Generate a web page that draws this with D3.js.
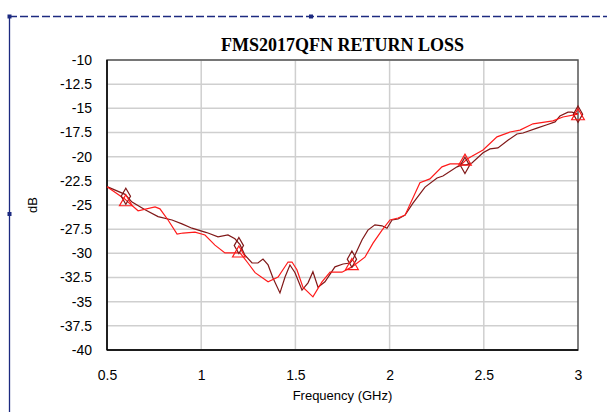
<!DOCTYPE html>
<html><head><meta charset="utf-8">
<script src="https://cdn.jsdelivr.net/npm/d3@7"></script>
<style>
html,body{margin:0;padding:0;background:#fff;}
svg{display:block;}
</style></head>
<body>
<svg id="c" width="607" height="412"></svg>
<script>
// ---- data ----
const title = "FMS2017QFN RETURN LOSS";
const xTicks = [0.5, 1, 1.5, 2, 2.5, 3];
const yTicks = [-10, -12.5, -15, -17.5, -20, -22.5, -25, -27.5, -30, -32.5, -35, -37.5, -40];

const darkFreq = [0.5,0.596,0.633,0.702,0.771,0.845,0.898,0.951,1.020,1.036,1.089,1.142,1.179,1.206,1.232,1.270,1.301,1.328,1.355,1.381,1.418,1.445,1.471,1.498,1.535,1.567,1.593,1.620,1.657,1.710,1.753,1.790,1.806,1.854,1.885,1.922,1.960,1.986,2.013,2.045,2.082,2.124,2.188,2.252,2.283,2.358,2.384,2.405,2.437,2.496,2.533,2.575,2.628,2.676,2.708,2.782,2.835,2.878,2.904,2.947,2.968,3.0];
const darkDb = [-23.1,-23.9,-24.7,-25.5,-26.2,-26.55,-26.95,-27.4,-27.8,-27.9,-28.3,-28.1,-28.5,-29.1,-30.2,-31.0,-31.0,-30.6,-31.2,-32.55,-34.1,-32.45,-31.2,-32.0,-33.8,-33.05,-31.9,-33.5,-32.95,-31.4,-31.1,-31.0,-30.6,-28.6,-27.6,-27.05,-27.15,-27.4,-26.55,-26.45,-26.05,-24.8,-23.15,-22.2,-22.0,-21.05,-20.85,-20.85,-20.65,-19.6,-19.2,-19.1,-18.3,-17.65,-17.55,-17.05,-16.7,-16.4,-15.8,-15.4,-15.4,-15.6];

const redFreq = [0.5,0.596,0.606,0.665,0.755,0.781,0.824,0.872,0.903,0.967,1.020,1.073,1.126,1.195,1.206,1.248,1.286,1.355,1.408,1.461,1.482,1.508,1.540,1.593,1.641,1.684,1.747,1.800,1.869,1.912,1.960,2.002,2.045,2.082,2.161,2.214,2.278,2.321,2.384,2.411,2.496,2.570,2.639,2.692,2.761,2.867,2.920,3.0];
const redDb = [-23.1,-24.4,-24.6,-25.6,-25.2,-25.4,-26.55,-28.0,-27.9,-27.8,-28.1,-29.15,-29.95,-29.95,-29.95,-31.0,-32.0,-32.95,-32.45,-30.9,-30.9,-31.7,-33.5,-34.5,-32.95,-31.95,-31.95,-31.4,-30.4,-28.95,-27.6,-26.55,-26.35,-26.05,-22.7,-22.3,-21.05,-20.75,-20.75,-20.25,-19.3,-17.95,-17.45,-17.25,-16.6,-16.3,-15.9,-15.6];

const markFreq = [0.6, 1.2, 1.8, 2.4, 3.0];
const darkMarkDb = [-24.1, -29.2, -30.6, -20.9, -15.6];
const redMarkDb = [-24.7, -30.0, -31.3, -20.5, -15.8];

// ---- layout ----
const svg = d3.select("#c");
const L = 107, R = 578, T = 60, B = 350;
const x = d3.scaleLinear().domain([0.5, 3]).range([L, R]);
const y = d3.scaleLinear().domain([-40, -10]).range([B, T]);

// selection frame
const navy = "#1c2a80";
svg.append("line").attr("x1", 9).attr("x2", 607).attr("y1", 16.5).attr("y2", 16.5)
  .attr("stroke", navy).attr("stroke-width", 1.3).attr("stroke-dasharray", "8,3");
svg.append("line").attr("x1", 9.5).attr("x2", 9.5).attr("y1", 18).attr("y2", 412)
  .attr("stroke", navy).attr("stroke-width", 1.3);
[[9.5,16.5],[311,16.5],[9.5,214]].forEach(p => {
  svg.append("rect").attr("x", p[0]-2).attr("y", p[1]-2).attr("width", 4).attr("height", 4).attr("fill", navy);
});

// gridlines
svg.append("g").selectAll("line").data(yTicks).join("line")
  .attr("x1", L).attr("x2", R).attr("y1", d => y(d)).attr("y2", d => y(d))
  .attr("stroke", "#cfcfcf").attr("stroke-width", 1.5);
svg.append("g").selectAll("line").data(xTicks.slice(1, -1)).join("line")
  .attr("x1", d => x(d)).attr("x2", d => x(d)).attr("y1", T).attr("y2", B)
  .attr("stroke", "#cfcfcf").attr("stroke-width", 1.5);

// plot border
svg.append("rect").attr("x", L).attr("y", T).attr("width", R - L).attr("height", B - T)
  .attr("fill", "none").attr("stroke", "#555").attr("stroke-width", 1.5);
svg.append("line").attr("x1", L).attr("x2", L).attr("y1", T).attr("y2", B).attr("stroke", "#000").attr("stroke-width", 1.5);
svg.append("line").attr("x1", L).attr("x2", R).attr("y1", B).attr("y2", B).attr("stroke", "#000").attr("stroke-width", 1.5);

// axes (labels only)
const fmt = d => String(d);
const ax = svg.append("g").attr("transform", `translate(0,${B})`)
  .call(d3.axisBottom(x).tickValues(xTicks).tickFormat(fmt).tickSize(0).tickPadding(20));
const ay = svg.append("g").attr("transform", `translate(${L},0)`)
  .call(d3.axisLeft(y).tickValues(yTicks).tickFormat(fmt).tickSize(0).tickPadding(15));
[ax, ay].forEach(g => {
  g.select(".domain").remove();
  g.selectAll("text").attr("font-family", "Liberation Sans, Arial, sans-serif").attr("font-size", 14).attr("fill", "#000");
});

// lines
const line = d3.line().x(d => x(d[0])).y(d => y(d[1]));
const darkPts = darkFreq.map((f, i) => [f, darkDb[i]]);
const redPts = redFreq.map((f, i) => [f, redDb[i]]);
svg.append("path").datum(darkPts).attr("d", line).attr("fill", "none").attr("stroke", "#801818").attr("stroke-width", 1.2);
svg.append("path").datum(redPts).attr("d", line).attr("fill", "none").attr("stroke", "#ff1a1a").attr("stroke-width", 1.2);

// markers
const diamond = d3.symbol().type(d3.symbolDiamond).size(75);
const tri = d3.symbol().type(d3.symbolTriangle).size(70);
svg.append("g").selectAll("path").data(markFreq.map((f, i) => [f, darkMarkDb[i]])).join("path")
  .attr("d", diamond).attr("transform", d => `translate(${x(d[0])},${y(d[1])})`)
  .attr("fill", "none").attr("stroke", "#801818").attr("stroke-width", 1.2);
svg.append("g").selectAll("path").data(markFreq.map((f, i) => [f, redMarkDb[i]])).join("path")
  .attr("d", tri).attr("transform", d => `translate(${x(d[0])},${y(d[1])})`)
  .attr("fill", "none").attr("stroke", "#ff1a1a").attr("stroke-width", 1.2);

// titles
svg.append("text").attr("x", (L + R) / 2).attr("y", 51).attr("text-anchor", "middle")
  .attr("font-family", "Liberation Serif, Times New Roman, serif").attr("font-weight", "bold").attr("font-size", 18)
  .text(title);
svg.append("text").attr("x", (L + R) / 2).attr("y", 400).attr("text-anchor", "middle")
  .attr("font-family", "Liberation Sans, Arial, sans-serif").attr("font-size", 13)
  .text("Frequency (GHz)");
svg.append("text").attr("transform", "translate(37,205) rotate(-90)").attr("text-anchor", "middle")
  .attr("font-family", "Liberation Sans, Arial, sans-serif").attr("font-size", 13)
  .text("dB");
</script>
</body></html>
